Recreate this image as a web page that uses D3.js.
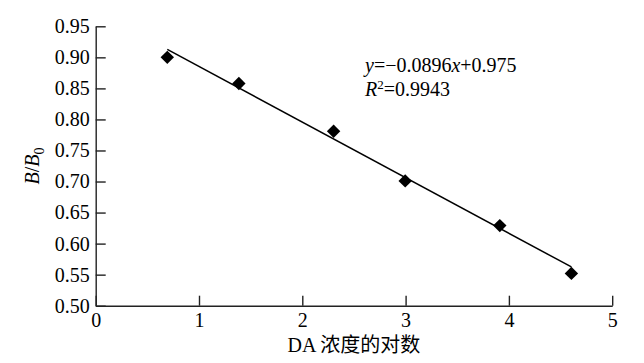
<!DOCTYPE html>
<html>
<head>
<meta charset="utf-8">
<script src="https://cdn.jsdelivr.net/npm/d3@7"></script>
<style>
  body { margin: 0; background: #fff; }
  svg { display: block; font-family: "Liberation Serif", "Times New Roman", "Noto Sans CJK SC", serif; }
</style>
</head>
<body>
<div class="chart"></div>
<script>
const WIDTH = 644;
const HEIGHT = 363;
const FONT = 20;

// ln of DA concentration vs B/B0
const xValues = [0.693, 1.386, 2.303, 2.996, 3.912, 4.605];
const yValues = [0.900, 0.858, 0.781, 0.701, 0.629, 0.552];
const xTicks = [0, 1, 2, 3, 4, 5];
const yTicks = [0.50, 0.55, 0.60, 0.65, 0.70, 0.75, 0.80, 0.85, 0.90, 0.95];
const slope = -0.0896;
const intercept = 0.975;

var xScale = d3.scaleLinear().domain([0, 5]).range([95.7, 612.2]);
var yScale = d3.scaleLinear().domain([0.5, 0.95]).range([305.7, 26.3]);

var svg = d3.select('.chart').append('svg')
    .attr('width', WIDTH)
    .attr('height', HEIGHT);

var xAxis = d3.axisBottom(xScale)
    .tickValues(xTicks)
    .tickFormat(d3.format('d'))
    .tickSizeInner(-10)
    .tickSizeOuter(0)
    .tickPadding(7);

var yAxis = d3.axisLeft(yScale)
    .tickValues(yTicks)
    .tickFormat(d3.format('.2f'))
    .tickSizeInner(-10)
    .tickSizeOuter(0)
    .tickPadding(6);

var xAxisG = svg.append('g')
    .attr('transform', 'translate(0,' + yScale(0.5) + ')')
    .call(xAxis);
var yAxisG = svg.append('g')
    .attr('transform', 'translate(' + xScale(0) + ',0)')
    .call(yAxis);

[xAxisG, yAxisG].forEach(function (g) {
    g.attr('font-family', null).attr('font-size', null);
    g.select('.domain').attr('stroke', '#222').attr('stroke-width', 1.4);
    g.selectAll('.tick line').attr('stroke', '#222').attr('stroke-width', 1.4);
    g.selectAll('.tick text').attr('fill', '#000').style('font-size', FONT + 'px');
});

// fitted line
var x0 = d3.min(xValues), x1 = d3.max(xValues);
svg.append('line')
    .attr('x1', xScale(x0)).attr('y1', yScale(slope * x0 + intercept))
    .attr('x2', xScale(x1)).attr('y2', yScale(slope * x1 + intercept))
    .attr('stroke', '#000')
    .attr('stroke-width', 1.5);

// diamond markers
var sym = d3.symbol().type(d3.symbolSquare).size(90);
svg.selectAll('.pt')
    .data(xValues)
    .enter().append('path')
    .attr('class', 'pt')
    .attr('d', sym)
    .attr('fill', '#000')
    .attr('transform', function (d, i) {
        return 'translate(' + xScale(d) + ',' + yScale(yValues[i]) + ') rotate(45)';
    });

// equation
var eq = svg.append('text')
    .attr('x', 365).attr('y', 72)
    .style('font-size', FONT + 'px').attr('fill', '#000');
eq.append('tspan').style('font-style', 'italic').text('y');
eq.append('tspan').text('=\u22120.0896');
eq.append('tspan').style('font-style', 'italic').text('x');
eq.append('tspan').text('+0.975');

var r2 = svg.append('text')
    .attr('x', 365).attr('y', 96)
    .style('font-size', FONT + 'px').attr('fill', '#000');
r2.append('tspan').style('font-style', 'italic').text('R');
r2.append('tspan').attr('dy', -7).style('font-size', '13px').text('2');
r2.append('tspan').attr('dy', 7).text('=0.9943');

// x title
svg.append('text')
    .attr('x', (xScale(0) + xScale(5)) / 2)
    .attr('y', 352)
    .attr('text-anchor', 'middle')
    .style('font-size', FONT + 'px').attr('fill', '#000')
    .text('DA 浓度的对数');

// y title
var yt = svg.append('text')
    .attr('transform', 'translate(39,' + (yScale(0.725)) + ') rotate(-90)')
    .attr('text-anchor', 'middle')
    .style('font-size', FONT + 'px').attr('fill', '#000');
yt.append('tspan').style('font-style', 'italic').text('B');
yt.append('tspan').text('/');
yt.append('tspan').style('font-style', 'italic').text('B');
yt.append('tspan').attr('dy', 5).style('font-size', '14px').text('0');
</script>
</body>
</html>
